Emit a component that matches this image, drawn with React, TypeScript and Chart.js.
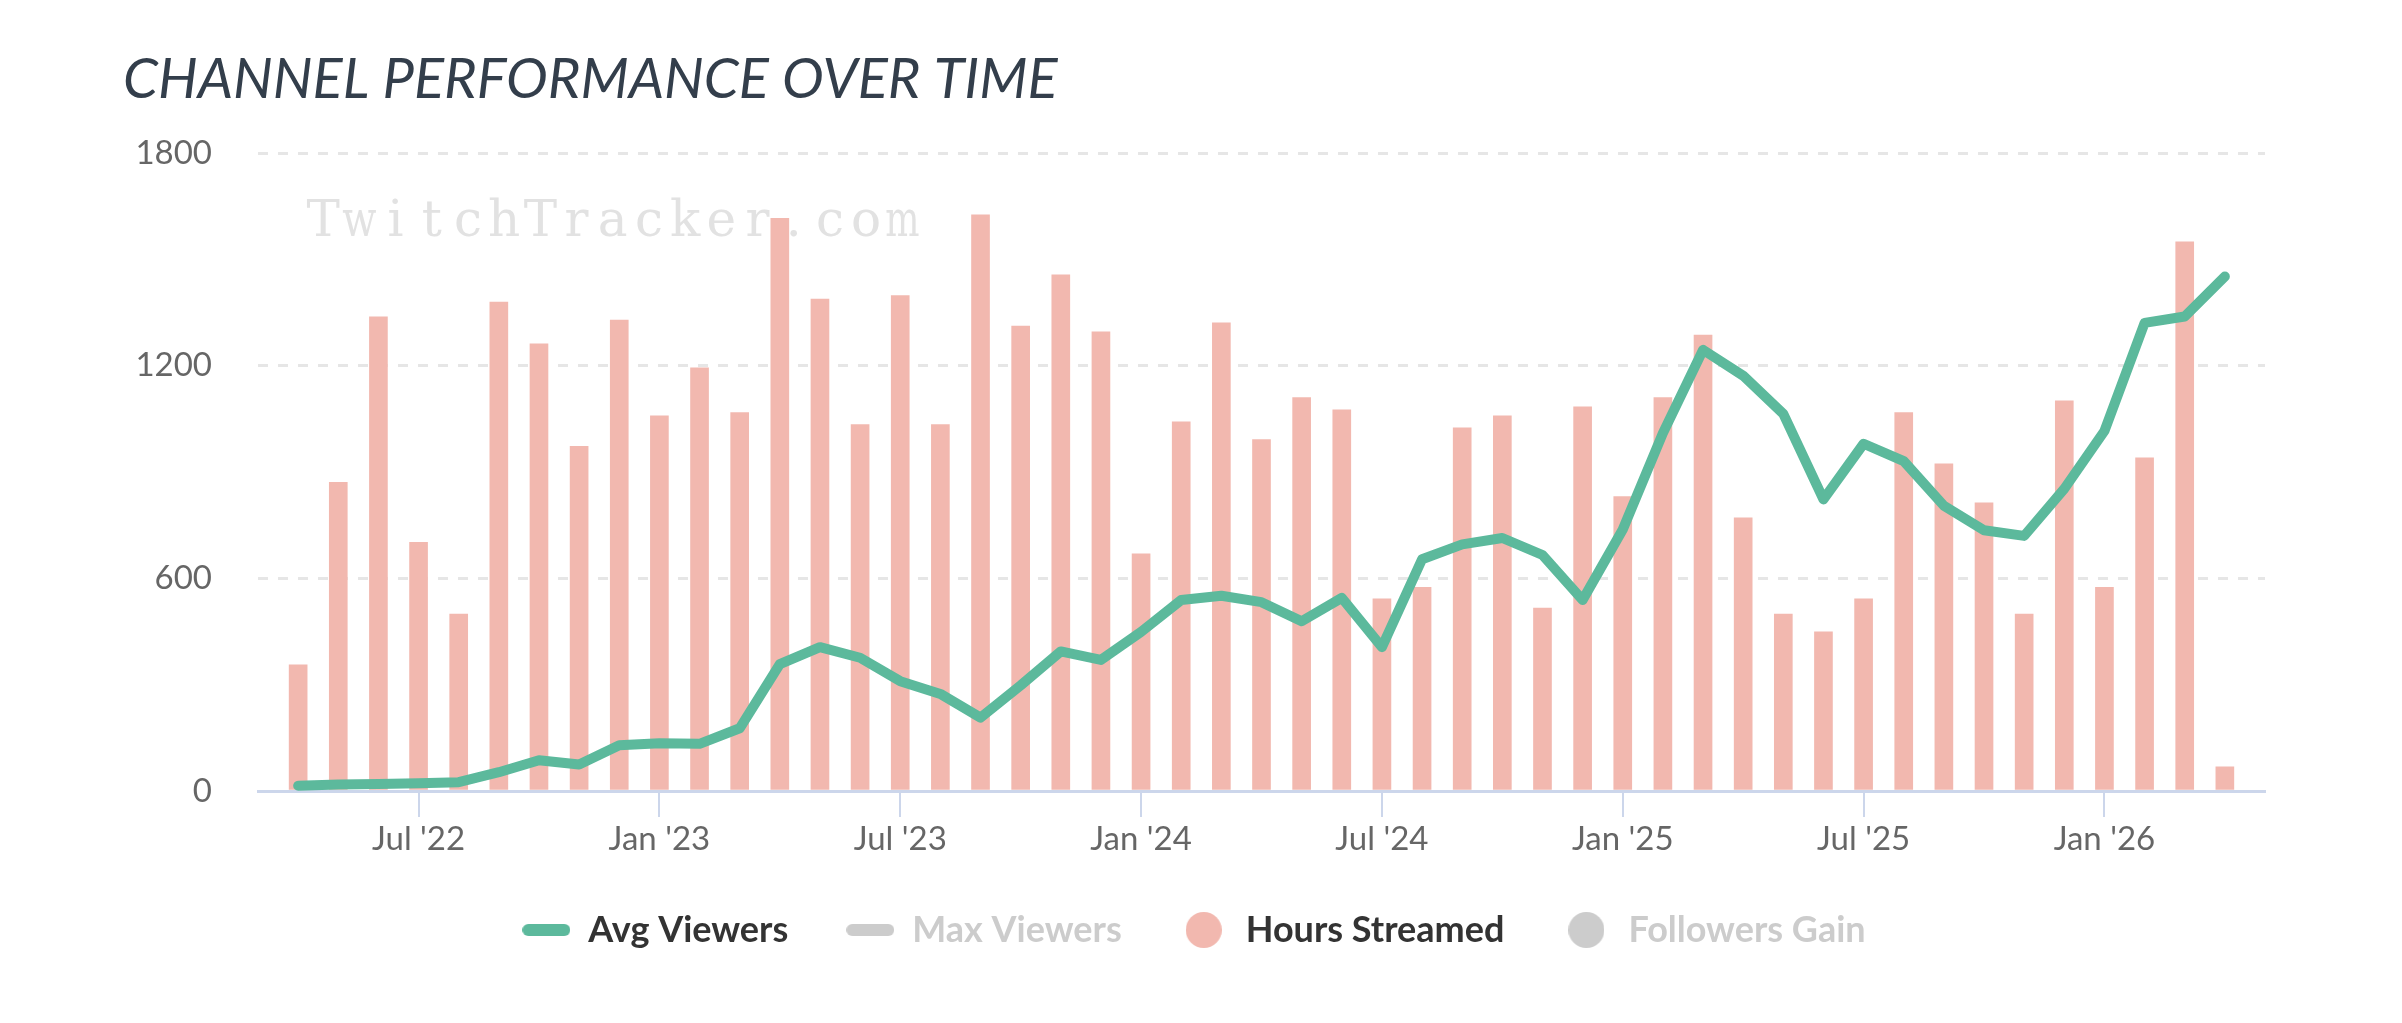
import React, { useEffect, useRef } from 'react';
import { Chart, registerables } from 'chart.js';

Chart.register(...registerables);

// Months (one bar / one point each), Apr 2022 .. Apr 2026
const months = [
  '2022-04', '2022-05', '2022-06', '2022-07', '2022-08', '2022-09', '2022-10', '2022-11', '2022-12',
  '2023-01', '2023-02', '2023-03', '2023-04', '2023-05', '2023-06', '2023-07', '2023-08', '2023-09', '2023-10', '2023-11', '2023-12',
  '2024-01', '2024-02', '2024-03', '2024-04', '2024-05', '2024-06', '2024-07', '2024-08', '2024-09', '2024-10', '2024-11', '2024-12',
  '2025-01', '2025-02', '2025-03', '2025-04', '2025-05', '2025-06', '2025-07', '2025-08', '2025-09', '2025-10', '2025-11', '2025-12',
  '2026-01', '2026-02', '2026-03', '2026-04',
];

const avgViewers = [
  15, 18, 20, 22, 25, 53, 87, 75, 129,
  135, 133, 177, 358, 406, 376, 310, 274, 207, 298, 394, 370,
  449, 539, 551, 533, 479, 545, 406, 654, 696, 714, 666, 539,
  738, 1010, 1245, 1172, 1064, 823, 980, 931, 805, 736, 720, 853,
  1016, 1321, 1339, 1452,
];

const hoursStreamed = [
  356, 871, 1338, 702, 499, 1380, 1262, 973, 1329,
  1059, 1194, 1068, 1616, 1388, 1034, 1398, 1034, 1626, 1312, 1457, 1296,
  669, 1042, 1321, 992, 1110, 1076, 542, 575, 1025, 1059, 516, 1084,
  831, 1110, 1287, 771, 499, 449, 542, 1068, 923, 813, 499, 1101,
  575, 940, 1550, 68,
];

const maxViewers: number[] = [];
const followersGain: number[] = [];

const yTicks = [0, 600, 1200, 1800];
const monthNames = ['Jan', 'Feb', 'Mar', 'Apr', 'May', 'Jun', 'Jul', 'Aug', 'Sep', 'Oct', 'Nov', 'Dec'];
const tickMonths = ['01', '07'];

const TITLE = 'CHANNEL PERFORMANCE OVER TIME';
const WATERMARK = 'TwitchTracker.com';

const GREEN = '#5cb99c';
const SALMON = '#f2b8af';
const GREY = '#cccccc';

function monthLabel(i: number): string {
  const m = months[i];
  if (!m) return '';
  const [yy, mm] = m.split('-');
  return `${monthNames[parseInt(mm, 10) - 1]} '${yy.slice(2)}`;
}

function makeLineSymbol(color: string) {
  const c = document.createElement('canvas');
  c.width = 48;
  c.height = 12;
  const g = c.getContext('2d')!;
  g.strokeStyle = color;
  g.lineWidth = 12;
  g.lineCap = 'round';
  g.beginPath();
  g.moveTo(6, 6);
  g.lineTo(42, 6);
  g.stroke();
  return c;
}

function makeCircleSymbol(color: string) {
  const c = document.createElement('canvas');
  c.width = 36;
  c.height = 36;
  const g = c.getContext('2d')!;
  g.fillStyle = color;
  g.beginPath();
  g.arc(18, 18, 18, 0, Math.PI * 2);
  g.fill();
  return c;
}

// Typewriter-style watermark: serif glyphs placed on a fixed monospace grid
const watermarkPlugin = {
  id: 'watermark',
  beforeDatasetsDraw(chart: any) {
    const { ctx, chartArea } = chart;
    const cell = 36.2;
    const x0 = chartArea.left + 47;
    const y0 = chartArea.top + 83;
    ctx.save();
    ctx.font = '50px "DejaVu Serif"';
    ctx.fillStyle = '#e2e2e2';
    ctx.textBaseline = 'alphabetic';
    ctx.textAlign = 'center';
    Array.from(WATERMARK).forEach((ch, i) => {
      const w = ctx.measureText(ch).width;
      const sx = Math.min(1, (cell - 2) / Math.max(w, 1));
      ctx.save();
      ctx.translate(x0 + cell * (i + 0.5), y0);
      ctx.scale(sx, 1);
      ctx.fillText(ch, 0, 0);
      ctx.restore();
    });
    ctx.restore();
  },
};

export default function App() {
  const canvasRef = useRef<HTMLCanvasElement | null>(null);

  useEffect(() => {
    const canvas = canvasRef.current;
    if (!canvas) return;

    const symbols = [
      makeLineSymbol(GREEN),
      makeLineSymbol(GREY),
      makeCircleSymbol(SALMON),
      makeCircleSymbol(GREY),
    ];

    const chart = new Chart(canvas, {
      type: 'bar',
      data: {
        datasets: [
          {
            type: 'line',
            label: 'Avg Viewers',
            data: avgViewers.map((v, i) => ({ x: i, y: v })),
            borderColor: GREEN,
            backgroundColor: GREEN,
            borderWidth: 10,
            pointRadius: 0,
            pointHoverRadius: 0,
            tension: 0,
            borderCapStyle: 'round',
            borderJoinStyle: 'round',
          },
          {
            type: 'line',
            label: 'Max Viewers',
            data: maxViewers.map((v, i) => ({ x: i, y: v })),
            borderColor: GREY,
            hidden: true,
          },
          {
            type: 'bar',
            label: 'Hours Streamed',
            data: hoursStreamed.map((v, i) => ({ x: i, y: v })),
            backgroundColor: SALMON,
            borderWidth: 0,
            barThickness: 18,
          },
          {
            type: 'bar',
            label: 'Followers Gain',
            data: followersGain.map((v, i) => ({ x: i, y: v })),
            backgroundColor: GREY,
            hidden: true,
          },
        ] as any,
      },
      options: {
        responsive: false,
        animation: false,
        devicePixelRatio: 1,
        layout: { padding: { left: 123, right: 137, top: 0, bottom: 65 } },
        plugins: {
          tooltip: { enabled: false },
          title: {
            display: true,
            text: TITLE,
            align: 'start',
            color: '#333e4b',
            font: { family: 'Lato', size: 56, style: 'italic', weight: 'normal' },
            padding: { top: 46, bottom: 40 },
          },
          legend: {
            display: true,
            position: 'bottom',
            align: 'center',
            labels: {
              usePointStyle: true,
              pointStyleWidth: 48,
              boxHeight: 36,
              padding: 58,
              font: { family: 'Lato', size: 36, weight: 'bold' },
              generateLabels: (c: any) =>
                c.data.datasets.map((ds: any, i: number) => ({
                  text: ds.label,
                  fillStyle: ds.hidden ? GREY : ds.backgroundColor,
                  strokeStyle: ds.hidden ? GREY : ds.borderColor,
                  lineWidth: 0,
                  pointStyle: symbols[i],
                  hidden: false,
                  datasetIndex: i,
                  fontColor: ds.hidden ? GREY : '#333333',
                })),
            },
          },
        },
        scales: {
          x: {
            type: 'linear',
            offset: false,
            min: -1,
            max: months.length,
            afterBuildTicks: (scale: any) => {
              scale.ticks = months
                .map((m, i) => ({ m, i }))
                .filter((o) => tickMonths.includes(o.m.split('-')[1]))
                .map((o) => ({ value: o.i }));
            },
            afterFit: (scale: any) => {
              scale.height = 63;
            },
            ticks: {
              autoSkip: false,
              maxRotation: 0,
              color: '#666666',
              font: { family: 'Lato', size: 33, lineHeight: 1 },
              padding: 6,
              callback: (v: any) => monthLabel(Number(v)),
            },
            grid: {
              offset: false,
              drawOnChartArea: false,
              color: '#ccd6eb',
              lineWidth: 2,
              tickLength: 26,
            },
            border: { color: '#ccd6eb', width: 3 },
          },
          y: {
            min: yTicks[0],
            max: yTicks[yTicks.length - 1],
            afterBuildTicks: (scale: any) => {
              scale.ticks = yTicks.map((v) => ({ value: v }));
            },
            afterFit: (scale: any) => {
              scale.width = 135;
            },
            ticks: {
              color: '#666666',
              font: { family: 'Lato', size: 33 },
              padding: 46,
              callback: (v: any) => String(v),
            },
            grid: { color: '#e6e6e6', lineWidth: 3, drawTicks: false },
            border: { display: false, dash: [10, 10] },
          },
        },
      } as any,
      plugins: [watermarkPlugin],
    });

    return () => {
      chart.destroy();
    };
  }, []);

  return (
    <div style={{ position: 'absolute', left: 0, top: 0, width: 2402, height: 1023, background: '#ffffff' }}>
      <canvas ref={canvasRef} width={2402} height={1023} style={{ width: 2402, height: 1023, display: 'block' }} />
    </div>
  );
}
